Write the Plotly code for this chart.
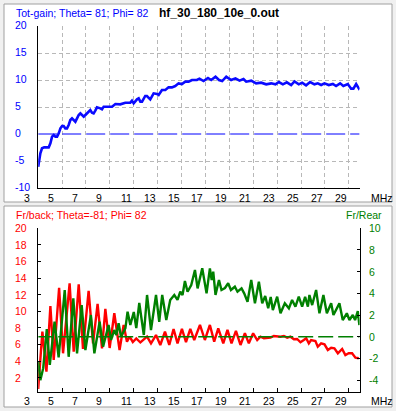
import plotly.graph_objects as go

# ---------------- data ----------------
freq_gain = [3.00, 3.18, 3.32, 3.50, 3.88, 4.02, 4.16, 4.30, 4.44, 4.58, 4.72, 4.86, 5.00, 5.13, 5.27, 5.41,
             5.55, 5.69, 5.83, 5.97, 6.11, 6.25, 6.39, 6.53, 6.67, 6.81, 6.95, 7.23, 7.36, 7.50, 7.64, 7.78,
             7.92, 8.20, 8.34, 8.48, 8.76, 9.18, 9.46, 9.87, 10.29, 10.71, 10.85, 10.99, 11.27, 11.41, 11.55,
             11.69, 11.96, 12.10, 12.38, 12.66, 12.94, 13.08, 13.36, 13.64, 13.91, 14.19, 14.47, 14.75, 15.03,
             15.31, 15.59, 15.87, 16.28, 16.50, 16.84, 17.21, 17.48, 17.84, 18.13, 18.40, 18.74, 19.15, 19.51,
             19.85, 20.18, 20.41, 20.83, 21.24, 21.66, 22.08, 22.50, 22.86, 23.14, 23.48, 23.81, 24.17, 24.45,
             24.81, 25.09, 25.42, 25.76, 26.12, 26.40, 26.68, 26.96, 27.32, 27.66, 27.93, 28.27, 28.54, 28.91,
             29.19, 29.38, 29.61, 29.83, 29.88]
tot_gain = [-6.05, -3.58, -2.65, -2.47, -2.47, -1.73, -0.49, -0.19, -0.49, -0.49, 0.12, 1.05, 1.48, 1.48, 1.05, 1.05,
            1.67, 2.59, 2.90, 2.47, 2.28, 2.90, 3.52, 3.83, 3.52, 3.21, 3.52, 4.14, 4.44, 3.95, 3.83, 4.32,
            4.94, 4.75, 4.57, 5.06, 5.06, 5.06, 5.56, 5.49, 5.80, 5.80, 6.17, 5.68, 6.42, 6.60, 5.99,
            5.99, 7.04, 7.04, 6.42, 7.53, 7.41, 7.22, 8.15, 8.15, 8.64, 8.64, 8.89, 9.38, 9.26,
            9.69, 9.69, 10.00, 10.00, 10.25, 9.81, 10.37, 10.00, 10.62, 10.00, 9.81, 10.62, 10.00, 10.31,
            9.88, 10.19, 9.69, 9.88, 9.38, 9.51, 9.20, 9.38, 9.20, 9.63, 9.20, 9.57, 9.07, 9.75,
            9.20, 9.51, 9.01, 9.63, 9.20, 9.38, 9.07, 9.38, 9.07, 9.26, 8.89, 9.38, 8.89, 9.26,
            8.40, 8.40, 9.26, 8.46, 8.64]

freq_back = [3.00, 3.35, 3.69, 4.02, 4.30, 4.75, 5.08, 5.63, 5.97, 6.39, 6.75, 7.22, 7.59, 7.97, 8.34, 8.62,
             8.98, 9.37, 9.81, 10.15, 10.43, 10.65, 10.92, 11.21, 11.55, 11.84, 12.11, 12.44, 12.86, 13.22,
             13.61, 13.97, 14.33, 14.66, 15.03, 15.37, 15.73, 16.06, 16.54, 16.95, 17.37, 17.73, 18.07, 18.49,
             18.84, 19.18, 19.55, 19.93, 20.30, 20.63, 20.99, 21.33, 21.60, 21.89, 22.16, 22.44, 22.72, 23.00,
             23.28, 23.56, 23.84, 24.11, 24.40, 24.67, 24.95, 25.23, 25.43, 25.65, 25.84, 26.20, 26.40, 26.68,
             26.96, 27.24, 27.52, 27.79, 28.08, 28.44, 28.71, 28.99, 29.27, 29.55, 29.83]
fr_back = [0.64, 7.54, 2.72, 10.64, 4.13, 12.84, 4.94, 13.37, 5.13, 13.25, 5.46, 12.45, 6.14, 10.88, 5.54, 10.28,
           5.58, 9.76, 5.34, 8.35, 6.34, 6.94, 6.30, 6.72, 6.24, 6.66, 6.94, 6.14, 7.14, 5.94,
           7.54, 5.94, 7.87, 6.14, 7.87, 6.27, 7.87, 6.54, 8.35, 6.54, 8.35, 6.34, 7.95, 6.14,
           7.75, 6.14, 7.63, 5.94, 7.35, 6.14, 7.35, 6.54, 6.94, 6.75, 6.82, 6.82, 7.02, 6.94,
           6.94, 7.02, 6.82, 6.94, 6.63, 6.66, 6.27, 6.54, 6.75, 6.14, 6.54, 6.42, 5.73, 6.14,
           6.02, 5.34, 5.61, 5.54, 4.94, 5.46, 4.73, 4.94, 4.94, 4.41, 4.34]

freq_rear = [3.00, 3.18, 3.42, 3.72, 3.97, 4.37, 4.71, 5.22, 5.55, 5.94, 6.25, 6.64, 6.95, 7.41, 7.70, 8.14,
             8.43, 8.89, 9.10, 9.37, 9.54, 9.73, 9.93, 10.15, 10.30, 10.48, 10.71, 11.00, 11.21, 11.46, 11.84,
             12.11, 12.44, 12.86, 13.13, 13.38, 13.72, 14.05, 14.39, 14.66, 14.89, 15.08, 15.28, 15.50, 15.81,
             16.12, 16.34, 16.73, 17.09, 17.37, 17.52, 17.65, 17.84, 18.13, 18.34, 18.63, 18.90, 19.13, 19.46,
             19.68, 20.02, 20.24, 20.52, 20.83, 21.14, 21.47, 21.75, 22.00, 22.25, 22.46, 22.64, 23.00, 23.28,
             23.64, 23.98, 24.25, 24.53, 24.81, 25.09, 25.34, 25.57, 25.70, 25.93, 26.26, 26.54, 26.87, 27.16,
             27.52, 27.71, 28.21, 28.49, 28.83, 29.05, 29.33, 29.52, 29.75, 29.88]
fr_rear = [-2.3, -4.0, -2.9, 0.7, -2.6, 1.4, -1.9, 4.31, -1.85, 3.54, -1.53, 2.92, -1.23, 2.0, -1.53, 1.38,
           -0.92, 1.08, -0.30, 0.62, 0.16, 1.24, 0.0, 0.53, 0.8, 2.31, 1.08, 2.28, 0.80, 3.11, 0.16,
           3.85, 0.62, 3.85, 1.38, 3.85, 1.54, 3.39, 3.85, 3.39, 4.15, 3.85, 5.14, 4.15, 4.77,
           6.15, 4.46, 6.31, 4.0, 6.31, 5.23, 6.0, 3.85, 5.23, 4.31, 4.49, 4.93, 4.31, 4.61,
           4.15, 4.46, 4.0, 3.23, 5.23, 3.08, 5.07, 3.08, 3.75, 2.62, 3.66, 2.46, 3.69, 2.16,
           3.08, 2.62, 3.39, 2.77, 3.69, 2.77, 3.69, 2.77, 3.85, 2.92, 4.31, 2.16, 3.85, 2.16,
           3.08, 2.0, 3.08, 1.54, 2.16, 1.54, 2.0, 1.54, 2.37, 1.08]

x_ticks = [3, 5, 7, 9, 11, 13, 15, 17, 19, 21, 23, 25, 27, 29]
gain_ticks = [-10, -5, 0, 5, 10, 15, 20]
gain_grid = [-5, 5, 10, 15, 20]
back_ticks = [2, 4, 6, 8, 10, 12, 14, 16, 18, 20]
rear_ticks = [-4, -2, 0, 2, 4, 6, 8, 10]
x_min, x_max = 3.0, 29.9

# ---------------- layout helpers ----------------
W, H = 396, 411
def px(x):
    return x / W
def py(y):
    return 1 - y / H

FONT = "Liberation Sans, Arial, sans-serif"
BLUE = "#0000ff"
RED = "#ff0000"
GREEN = "#008000"
FS = 10.5

XDOM = [px(38.2), px(359.6)]
Y1DOM = [py(188), py(26)]
Y2DOM = [py(391.7), py(228.3)]

fig = go.Figure()

# top panel
fig.add_trace(go.Scatter(x=[x_min, x_max], y=[0, 0], mode="lines", xaxis="x", yaxis="y",
                         line=dict(color=BLUE, width=1, dash="19px,5px"), hoverinfo="skip"))
fig.add_trace(go.Scatter(x=freq_gain, y=tot_gain, mode="lines", xaxis="x", yaxis="y",
                         line=dict(color="#0a0aff", width=2.6), hoverinfo="skip"))
# bottom panel
fig.add_trace(go.Scatter(x=[x_min, x_max], y=[0, 0], mode="lines", xaxis="x2", yaxis="y3",
                         line=dict(color=GREEN, width=1.3, dash="15px,5px"), hoverinfo="skip"))
fig.add_trace(go.Scatter(x=freq_rear, y=fr_rear, mode="lines", xaxis="x2", yaxis="y3",
                         line=dict(color=GREEN, width=2.4), hoverinfo="skip"))
fig.add_trace(go.Scatter(x=freq_back, y=fr_back, mode="lines", xaxis="x2", yaxis="y2",
                         line=dict(color=RED, width=2.4), hoverinfo="skip"))

ann = []
def label(text, x, y, xref, yref, color="black", xanchor="left", size=FS, xshift=0, yshift=0):
    ann.append(dict(text=text, x=x, y=y, xref=xref, yref=yref, showarrow=False,
                    xanchor=xanchor, yanchor="middle", xshift=xshift, yshift=yshift,
                    font=dict(family=FONT, size=size, color=color)))

# y tick labels (left aligned like the original)
for v in gain_ticks:
    label(str(v), px(13), v, "paper", "y", BLUE, yshift=1.5)
for v in back_ticks:
    label(str(v), px(13), v, "paper", "y2", RED)
for v in rear_ticks:
    label(str(v), px(366.5), v, "paper", "y3", GREEN)
# x tick labels (right aligned in a two-digit field)
for v in x_ticks:
    s = str(v)
    sh = -6 if len(s) == 1 else 0
    label(s, v, py(197.5), "x", "paper", "black", "right", xshift=sh)
    label(s, v, py(401), "x2", "paper", "black", "right", xshift=sh)
label("MHz", px(369), py(197.5), "paper", "paper")
label("MHz", px(369), py(401), "paper", "paper")
# titles
label("Tot-gain; Theta= 81; Phi= 82", px(14), py(13), "paper", "paper", BLUE)
label("<b>hf_30_180_10e_0.out</b>", px(157), py(13), "paper", "paper", "black", size=12)
label("Fr/back; Theta=-81; Phi= 82", px(14), py(215), "paper", "paper", RED)
label("Fr/Rear", px(344), py(215), "paper", "paper", GREEN)

shapes = [
    dict(type="rect", xref="paper", yref="paper", x0=px(4), x1=px(392), y0=py(202), y1=py(4),
         fillcolor="white", line=dict(color="#a0a0a0", width=1), layer="below"),
    dict(type="rect", xref="paper", yref="paper", x0=px(4), x1=px(392), y0=py(407), y1=py(206),
         fillcolor="white", line=dict(color="#a0a0a0", width=1), layer="below"),
]

axis_common = dict(showticklabels=False, zeroline=False, fixedrange=True)
fig.update_layout(
    width=W, height=H, autosize=False,
    margin=dict(l=0, r=0, t=0, b=0),
    paper_bgcolor="#f0f0f0", plot_bgcolor="white",
    showlegend=False, hovermode=False,
    annotations=ann, shapes=shapes,
    xaxis=dict(domain=XDOM, range=[x_min, x_max], anchor="y", tickvals=x_ticks[1:],
               showgrid=True, gridcolor="#b8b8b8", griddash="4px,3px", gridwidth=1,
               showline=True, linecolor="black", linewidth=1, ticks="", **axis_common),
    yaxis=dict(domain=Y1DOM, range=[-10, 20], anchor="x", tickvals=gain_grid,
               showgrid=True, gridcolor="#b8b8b8", griddash="4px,3px", gridwidth=1,
               showline=True, linecolor="black", linewidth=1, ticks="", **axis_common),
    xaxis2=dict(domain=XDOM, range=[x_min, x_max], anchor="y2", tickvals=x_ticks,
                showgrid=False, showline=True, linecolor="black", linewidth=1,
                ticks="inside", ticklen=4, tickcolor="black", **axis_common),
    yaxis2=dict(domain=Y2DOM, range=[0.31, 20], anchor="x2", tickvals=back_ticks,
                showgrid=False, showline=True, linecolor="black", linewidth=1,
                ticks="inside", ticklen=3, tickcolor="black", **axis_common),
    yaxis3=dict(range=[-5.07, 10], anchor="x2", overlaying="y2", side="right", tickvals=rear_ticks,
                showgrid=False, showline=True, linecolor="black", linewidth=1,
                ticks="inside", ticklen=3, tickcolor="black", **axis_common),
)

fig.write_html("out.html", config={"displayModeBar": False, "staticPlot": True},
               post_script="document.body.style.margin='0px';document.body.style.overflow='hidden';")
